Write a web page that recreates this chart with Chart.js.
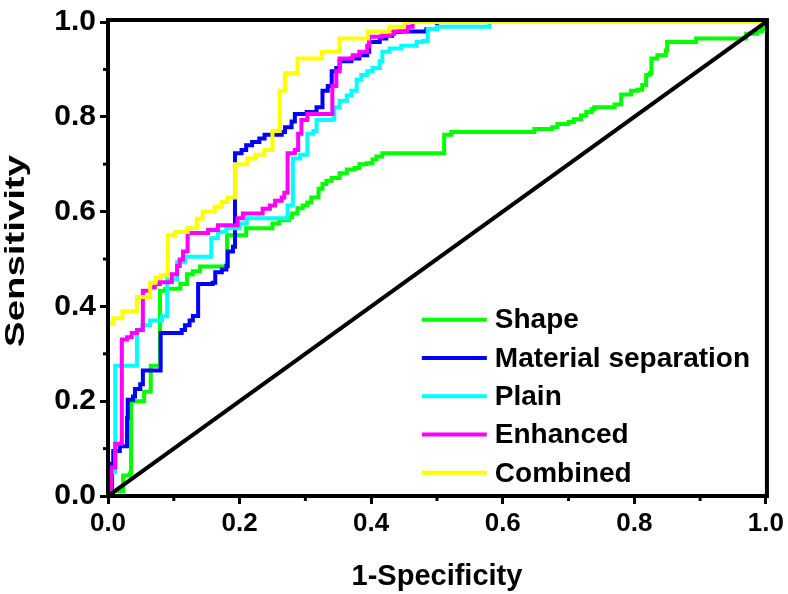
<!DOCTYPE html>
<html>
<head>
<meta charset="utf-8">
<script src="https://cdn.jsdelivr.net/npm/chart.js@4"></script>
<style>
  body { margin: 0; background: #fff; }
  #wrap { width: 788px; height: 594px; }
</style>
</head>
<body>
<div id="wrap"><canvas id="roc" width="788" height="594"></canvas></div>
<script>
// ROC curves, 1-Specificity (x) vs Sensitivity (y)
const seriesNames = ["Shape", "Material separation", "Plain", "Enhanced", "Combined"];
const seriesColors = ["#00ff00", "#0000ff", "#00ffff", "#ff00ff", "#ffff00"];

const shapeX = [0, 0.005, 0.023, 0.033, 0.035, 0.055, 0.065, 0.079, 0.087, 0.11, 0.12, 0.129, 0.14, 0.18, 0.181, 0.21, 0.25, 0.26, 0.275, 0.28, 0.288, 0.296, 0.303, 0.309, 0.32, 0.326, 0.332, 0.34, 0.352, 0.363, 0.375, 0.382, 0.393, 0.402, 0.408, 0.417, 0.511, 0.522, 0.648, 0.675, 0.683, 0.7, 0.708, 0.719, 0.727, 0.735, 0.739, 0.77, 0.78, 0.795, 0.805, 0.812, 0.818, 0.823, 0.826, 0.835, 0.848, 0.85, 0.894, 0.97, 0.987, 0.994, 1.0];
const shapeY = [0, 0.01, 0.043, 0.048, 0.2, 0.22, 0.275, 0.433, 0.437, 0.447, 0.468, 0.474, 0.484, 0.489, 0.55, 0.565, 0.575, 0.582, 0.588, 0.596, 0.607, 0.613, 0.619, 0.63, 0.648, 0.658, 0.665, 0.671, 0.681, 0.689, 0.692, 0.70, 0.702, 0.71, 0.716, 0.723, 0.762, 0.768, 0.774, 0.778, 0.785, 0.789, 0.795, 0.803, 0.81, 0.816, 0.82, 0.826, 0.847, 0.855, 0.857, 0.867, 0.888, 0.892, 0.923, 0.93, 0.94, 0.958, 0.965, 0.975, 0.98, 0.985, 1.0];

const materialX = [0, 0.006, 0.008, 0.018, 0.029, 0.03, 0.038, 0.041, 0.049, 0.053, 0.08, 0.112, 0.117, 0.124, 0.129, 0.137, 0.159, 0.163, 0.173, 0.18, 0.182, 0.19, 0.193, 0.203, 0.21, 0.219, 0.23, 0.238, 0.264, 0.269, 0.279, 0.284, 0.302, 0.317, 0.326, 0.334, 0.34, 0.347, 0.352, 0.37, 0.382, 0.394, 0.397, 0.413, 0.423, 0.432, 0.443, 0.484, 0.5, 1.0];
const materialY = [0, 0.068, 0.095, 0.105, 0.165, 0.203, 0.21, 0.226, 0.236, 0.265, 0.344, 0.35, 0.36, 0.37, 0.38, 0.447, 0.45, 0.472, 0.478, 0.485, 0.516, 0.526, 0.723, 0.73, 0.74, 0.747, 0.754, 0.762, 0.768, 0.778, 0.79, 0.806, 0.81, 0.82, 0.855, 0.865, 0.896, 0.903, 0.917, 0.923, 0.93, 0.937, 0.958, 0.965, 0.971, 0.979, 0.98, 0.985, 1.0, 1.0];

const plainX = [0, 0.003, 0.011, 0.044, 0.052, 0.064, 0.082, 0.09, 0.105, 0.117, 0.157, 0.167, 0.18, 0.2, 0.211, 0.273, 0.281, 0.292, 0.303, 0.312, 0.317, 0.341, 0.344, 0.352, 0.363, 0.37, 0.378, 0.385, 0.394, 0.402, 0.413, 0.417, 0.428, 0.446, 0.469, 0.478, 0.486, 0.5, 0.58, 1.0];
const plainY = [0, 0.05, 0.275, 0.35, 0.36, 0.37, 0.379, 0.457, 0.493, 0.505, 0.544, 0.557, 0.565, 0.575, 0.586, 0.613, 0.712, 0.72, 0.764, 0.77, 0.793, 0.795, 0.82, 0.834, 0.845, 0.855, 0.878, 0.888, 0.896, 0.903, 0.917, 0.937, 0.944, 0.95, 0.958, 0.96, 0.985, 0.99, 1.0, 1.0];

const enhancedX = [0, 0.005, 0.011, 0.021, 0.029, 0.036, 0.044, 0.053, 0.064, 0.071, 0.079, 0.097, 0.105, 0.109, 0.114, 0.121, 0.152, 0.167, 0.197, 0.205, 0.235, 0.246, 0.254, 0.264, 0.268, 0.273, 0.284, 0.289, 0.294, 0.303, 0.341, 0.347, 0.352, 0.372, 0.382, 0.394, 0.397, 0.416, 0.428, 0.435, 0.455, 0.463, 1.0];
const enhancedY = [0, 0.06, 0.11, 0.33, 0.335, 0.344, 0.35, 0.433, 0.44, 0.447, 0.451, 0.468, 0.485, 0.499, 0.516, 0.555, 0.561, 0.571, 0.586, 0.596, 0.606, 0.613, 0.623, 0.63, 0.64, 0.723, 0.73, 0.764, 0.793, 0.806, 0.865, 0.896, 0.923, 0.93, 0.937, 0.95, 0.969, 0.971, 0.975, 0.98, 0.99, 1.0, 1.0];

const combinedX = [0, 0, 0.008, 0.022, 0.044, 0.064, 0.072, 0.08, 0.09, 0.091, 0.102, 0.121, 0.135, 0.144, 0.162, 0.173, 0.182, 0.193, 0.212, 0.224, 0.238, 0.25, 0.261, 0.269, 0.288, 0.325, 0.352, 0.395, 0.428, 0.45, 1.0];
const combinedY = [0, 0.365, 0.375, 0.39, 0.42, 0.45, 0.46, 0.465, 0.47, 0.55, 0.557, 0.565, 0.585, 0.60, 0.61, 0.62, 0.63, 0.70, 0.712, 0.72, 0.73, 0.77, 0.855, 0.892, 0.923, 0.937, 0.965, 0.98, 0.99, 1.0, 1.0];

const refX = [0, 1];
const refY = [0, 1];

const xTicks = [0, 0.2, 0.4, 0.6, 0.8, 1.0];
const yTicks = [0, 0.2, 0.4, 0.6, 0.8, 1.0];

const FONT = "'Liberation Sans', Arial, sans-serif";

function toPoints(xs, ys) {
  return xs.map((x, i) => ({ x: x, y: ys[i] }));
}

const allX = [shapeX, materialX, plainX, enhancedX, combinedX];
const allY = [shapeY, materialY, plainY, enhancedY, combinedY];

const datasets = seriesNames.map((name, i) => ({
  label: name,
  data: toPoints(allX[i], allY[i]),
  borderColor: seriesColors[i],
  backgroundColor: seriesColors[i],
  borderWidth: 4,
  pointRadius: 0,
  stepped: true,
  fill: false,
  clip: 4,
  order: 5 - i
}));

datasets.push({
  label: "reference",
  data: toPoints(refX, refY),
  borderColor: "#000",
  borderWidth: 4,
  pointRadius: 0,
  fill: false,
  order: 0
});

// frame around plot + minor ticks + legend + y title
const extras = {
  id: "extras",
  afterDatasetsDraw(chart) {
    const ctx = chart.ctx;
    const a = chart.chartArea;
    const xs = chart.scales.x, ys = chart.scales.y;
    ctx.save();
    ctx.strokeStyle = "#000";
    ctx.lineWidth = 4;
    ctx.beginPath();
    ctx.moveTo(a.left, a.bottom);
    ctx.lineTo(a.left, a.top - 2);
    ctx.lineTo(a.right + 1, a.top - 2);
    ctx.lineTo(a.right + 1, a.bottom);
    ctx.closePath();
    ctx.stroke();

    // minor ticks
    ctx.lineWidth = 3;
    [0.1, 0.3, 0.5, 0.7, 0.9].forEach(v => {
      const px = xs.getPixelForValue(v);
      ctx.beginPath(); ctx.moveTo(px, a.bottom); ctx.lineTo(px, a.bottom + 5); ctx.stroke();
      const py = ys.getPixelForValue(v);
      ctx.beginPath(); ctx.moveTo(a.left, py); ctx.lineTo(a.left - 5, py); ctx.stroke();
    });

    // legend
    const lx = xs.getPixelForValue(0.477);
    let ly = ys.getPixelForValue(0.372);
    ctx.font = "bold 28px " + FONT;
    ctx.textBaseline = "middle";
    ctx.fillStyle = "#000";
    seriesNames.forEach((name, i) => {
      ctx.strokeStyle = seriesColors[i];
      ctx.lineWidth = 4;
      ctx.beginPath(); ctx.moveTo(lx, ly); ctx.lineTo(lx + 65, ly); ctx.stroke();
      ctx.fillText(name, lx + 73, ly + 1);
      ly += 38.3;
    });

    // y axis title (stretched along its length like the original)
    ctx.translate(16, (a.top + a.bottom) / 2 - 8);
    ctx.rotate(-Math.PI / 2);
    ctx.scale(1.37, 1);
    ctx.font = "bold 28px " + FONT;
    ctx.textAlign = "center";
    ctx.textBaseline = "middle";
    ctx.fillText("Sensitivity", 0, 0);
    ctx.restore();
  }
};

new Chart(document.getElementById("roc"), {
  type: "line",
  data: { datasets: datasets },
  options: {
    responsive: false,
    animation: false,
    layout: { padding: { left: 0, top: 13, right: 21, bottom: 0 } },
    plugins: {
      legend: { display: false },
      tooltip: { enabled: false }
    },
    scales: {
      x: {
        type: "linear",
        min: 0,
        max: 1,
        afterBuildTicks: s => { s.ticks = xTicks.map(v => ({ value: v })); },
        afterFit: s => { s.height = 98; },
        border: { display: false },
        grid: { drawOnChartArea: false, tickLength: 8, tickWidth: 3, tickColor: "#000" },
        ticks: {
          color: "#000",
          font: { family: FONT, size: 26, weight: "bold" },
          padding: 4,
          maxRotation: 0,
          callback: v => v.toFixed(1)
        },
        title: {
          display: true,
          text: "1-Specificity",
          color: "#000",
          font: { family: FONT, size: 29, weight: "bold" },
          padding: { top: 11, bottom: 0 }
        }
      },
      y: {
        type: "linear",
        min: 0,
        max: 1,
        afterBuildTicks: s => { s.ticks = yTicks.map(v => ({ value: v })); },
        afterFit: s => { s.width = 108; },
        border: { display: false },
        grid: { drawOnChartArea: false, tickLength: 8, tickWidth: 3, tickColor: "#000" },
        ticks: {
          color: "#000",
          font: { family: FONT, size: 30, weight: "bold" },
          padding: 4,
          callback: v => v.toFixed(1)
        },
        title: { display: false }
      }
    }
  },
  plugins: [extras]
});
</script>
</body>
</html>
